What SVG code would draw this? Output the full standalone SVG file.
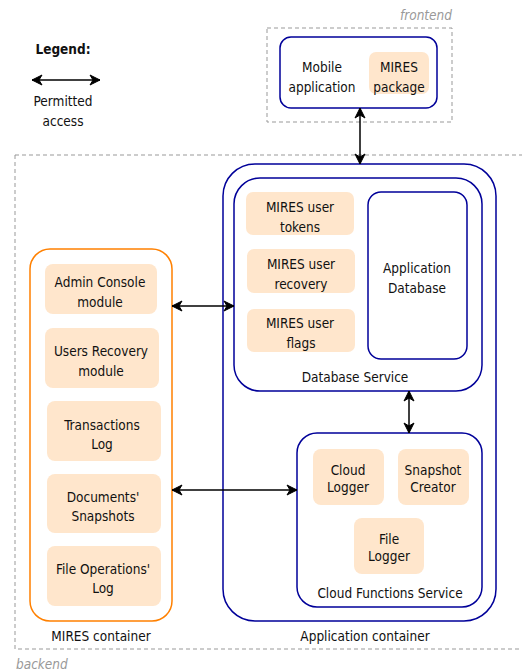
<svg xmlns="http://www.w3.org/2000/svg" width="522" height="671" viewBox="0 0 522 671">
<defs>
<style>
text{font-family:"DejaVu Sans Condensed","DejaVu Sans",sans-serif;font-stretch:condensed;font-size:13.5px;fill:#111;text-anchor:middle;dominant-baseline:central}
.grp{fill:none;stroke:#999;stroke-width:1;stroke-dasharray:4 3}
.lbl{fill:#999;font-style:italic}
.blue{fill:#fff;stroke:#000099;stroke-width:1.5}
.orange{fill:#fff;stroke:#FF8000;stroke-width:1.5}
.item{fill:#FFE6CC;stroke:none}
.conn{stroke:#000;stroke-width:1.5;fill:none;marker-start:url(#ah);marker-end:url(#ah)}
</style>
<marker id="ah" markerUnits="userSpaceOnUse" viewBox="-11 -6 12 12" markerWidth="12" markerHeight="12" refX="0" refY="0" orient="auto-start-reverse">
<path d="M0,0 L-10,-5 L-7,0 L-10,5 Z" fill="#000" stroke="#000" stroke-width="1"/>
</marker>
</defs>

<g id="legend">
<text x="63" y="49" style="font-weight:bold">Legend:</text>
<line class="conn" x1="32" y1="80" x2="100" y2="80"/>
<text x="63" y="101">Permitted</text>
<text x="63" y="121">access</text>
</g>

<g id="frontend">
<rect class="grp" x="267" y="28" width="185" height="94"/>
<text class="lbl" x="452" y="15" style="text-anchor:end">frontend</text>
</g>

<g id="backend">
<rect class="grp" x="15" y="155" width="530" height="494"/>
<text class="lbl" x="16" y="664" style="text-anchor:start">backend</text>
</g>

<g id="mobile-application">
<rect class="blue" x="280" y="37" width="157" height="71" rx="11"/>
<text x="322" y="67">Mobile</text>
<text x="322" y="87">application</text>
</g>
<g id="mires-package">
<rect class="item" x="369" y="52" width="60" height="42" rx="7"/>
<text x="399" y="67">MIRES</text>
<text x="399" y="87">package</text>
</g>

<g id="application-container">
<rect class="blue" x="223" y="164" width="273" height="457" rx="32"/>
<text x="365" y="636">Application container</text>
</g>

<g id="database-service">
<rect class="blue" x="234" y="178" width="248" height="213" rx="26"/>
<text x="355" y="377">Database Service</text>
</g>
<g id="mires-user-tokens">
<rect class="item" x="246" y="192" width="108" height="43" rx="7"/>
<text x="300" y="207">MIRES user</text>
<text x="300" y="227">tokens</text>
</g>
<g id="mires-user-recovery">
<rect class="item" x="247" y="249" width="108" height="44" rx="7"/>
<text x="301" y="264">MIRES user</text>
<text x="301" y="284">recovery</text>
</g>
<g id="mires-user-flags">
<rect class="item" x="247" y="309" width="108" height="43" rx="7"/>
<text x="300" y="323">MIRES user</text>
<text x="301" y="343">flags</text>
</g>
<g id="application-database">
<rect class="blue" x="368" y="192" width="99" height="167" rx="13"/>
<text x="417" y="268">Application</text>
<text x="417" y="288">Database</text>
</g>

<g id="cloud-functions-service">
<rect class="blue" x="297" y="433" width="185" height="174" rx="20"/>
<text x="390" y="593">Cloud Functions Service</text>
</g>
<g id="cloud-logger">
<rect class="item" x="313" y="449" width="71" height="56" rx="8"/>
<text x="348" y="470">Cloud</text>
<text x="348" y="487">Logger</text>
</g>
<g id="snapshot-creator">
<rect class="item" x="398" y="449" width="71" height="56" rx="8"/>
<text x="433" y="470">Snapshot</text>
<text x="433" y="487">Creator</text>
</g>
<g id="file-logger">
<rect class="item" x="354" y="518" width="70" height="56" rx="8"/>
<text x="389" y="539">File</text>
<text x="389" y="556">Logger</text>
</g>

<g id="mires-container">
<rect class="orange" x="30" y="249" width="142" height="372" rx="20"/>
<text x="101" y="636">MIRES container</text>
</g>
<g id="admin-console-module">
<rect class="item" x="45" y="264" width="112" height="50" rx="8"/>
<text x="100" y="282">Admin Console</text>
<text x="100" y="302">module</text>
</g>
<g id="users-recovery-module">
<rect class="item" x="45" y="328" width="114" height="60" rx="8"/>
<text x="101" y="351">Users Recovery</text>
<text x="101" y="371">module</text>
</g>
<g id="transactions-log">
<rect class="item" x="47" y="401" width="114" height="60" rx="8"/>
<text x="102" y="425">Transactions</text>
<text x="102" y="444">Log</text>
</g>
<g id="documents-snapshots">
<rect class="item" x="47" y="474" width="114" height="59" rx="8"/>
<text x="103" y="497">Documents'</text>
<text x="103" y="516">Snapshots</text>
</g>
<g id="file-operations-log">
<rect class="item" x="47" y="546" width="114" height="60" rx="8"/>
<text x="103" y="569">File Operations'</text>
<text x="103" y="588">Log</text>
</g>

<g id="connectors">
<line class="conn" x1="360" y1="108" x2="360" y2="164"/>
<line class="conn" x1="409" y1="391" x2="409" y2="433"/>
<line class="conn" x1="172" y1="306" x2="234" y2="306"/>
<line class="conn" x1="172" y1="490" x2="297" y2="490"/>
</g>
</svg>
